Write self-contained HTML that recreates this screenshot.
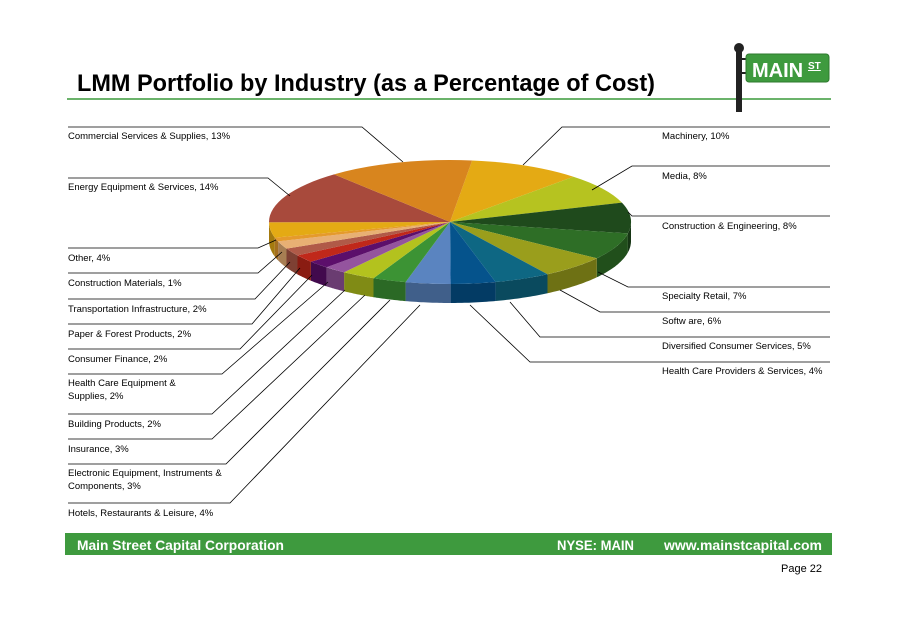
<!DOCTYPE html>
<html><head><meta charset="utf-8"><style>
body{margin:0;background:#fff;}
svg{display:block;font-family:"Liberation Sans",sans-serif;}
</style></head><body>
<svg id="s" width="899" height="635" viewBox="0 0 899 635" xmlns="http://www.w3.org/2000/svg">
<rect width="899" height="635" fill="#fff"/>
<text x="77" y="91" font-size="24" font-weight="bold" fill="#000" textLength="578" lengthAdjust="spacingAndGlyphs">LMM Portfolio by Industry (as a Percentage of Cost)</text>
<line x1="67" y1="99" x2="831" y2="99" stroke="#3a9a3a" stroke-width="1.5"/>
<rect x="736" y="50" width="6" height="62" fill="#222"/>
<circle cx="739" cy="48" r="5" fill="#222"/>
<rect x="742" y="58" width="5" height="2" fill="#222"/><rect x="742" y="72" width="5" height="2" fill="#222"/>
<rect x="746" y="54" width="83" height="28" rx="3" fill="#3e9a3e" stroke="#2e7a2e"/>
<text x="752" y="77" font-size="20" font-weight="bold" fill="#fff">MAIN</text>
<text x="808" y="69" font-size="10" font-weight="bold" fill="#fff" text-decoration="underline">ST</text>
<g id="pie"></g>
<g id="lines" stroke="#000" stroke-width="0.8" fill="none"></g>
<g font-size="9.5" fill="#000">
<text x="68" y="139">Commercial  Services &amp; Supplies, 13%</text>
<text x="68" y="190">Energy Equipment  &amp; Services, 14%</text>
<text x="68" y="261">Other, 4%</text>
<text x="68" y="286">Construction Materials, 1%</text>
<text x="68" y="312">Transportation Infrastructure, 2%</text>
<text x="68" y="337">Paper  &amp; Forest Products, 2%</text>
<text x="68" y="362">Consumer Finance, 2%</text>
<text x="68" y="386">Health Care Equipment  &amp;</text>
<text x="68" y="399">Supplies, 2%</text>
<text x="68" y="427">Building Products, 2%</text>
<text x="68" y="452">Insurance, 3%</text>
<text x="68" y="476">Electronic Equipment,  Instruments &amp;</text>
<text x="68" y="489">Components,  3%</text>
<text x="68" y="516">Hotels, Restaurants &amp; Leisure, 4%</text>
<text x="662" y="139">Machinery, 10%</text>
<text x="662" y="179">Media,  8%</text>
<text x="662" y="229">Construction &amp; Engineering,  8%</text>
<text x="662" y="299">Specialty Retail,  7%</text>
<text x="662" y="324">Softw are, 6%</text>
<text x="662" y="349">Diversified Consumer Services, 5%</text>
<text x="662" y="374">Health Care Providers &amp; Services, 4%</text>
</g>
<rect x="65" y="533" width="767" height="22" fill="#3e9a3e"/>
<g font-size="14" font-weight="bold" fill="#fff">
<text x="77" y="550" textLength="207" lengthAdjust="spacingAndGlyphs">Main Street Capital Corporation</text>
<text x="557" y="550" textLength="77" lengthAdjust="spacingAndGlyphs">NYSE: MAIN</text>
<text x="664" y="550" textLength="158" lengthAdjust="spacingAndGlyphs">www.mainstcapital.com</text>
</g>
<text x="781" y="572" font-size="11" fill="#000">Page 22</text>
</svg>
<script>
var cx=450,cy=222,rx=181,ry=62,d=19;
var sl=[[10,"#e4aa14"],[8,"#b6c320"],[8,"#1f4a1c"],[7,"#2e6e26"],[6,"#9a9e1c"],[5,"#0e6783"],[4,"#05538c"],[4,"#5a84c0"],[3,"#3c9334"],[3,"#b3c21e"],[2,"#94549e"],[2,"#5c0f6b"],[2,"#c0281a"],[2,"#b05a48"],[2,"#e8b074"],[1,"#e59a2c"],[4,"#e4aa14"],[14,"#a84a3c"],[13,"#d8851e"]];
function P(t,dy){return [cx+rx*Math.sin(t),cy-ry*Math.cos(t)+(dy||0)];}
function dk(c,f){var n=parseInt(c.slice(1),16);var r=(n>>16)*f|0,g=((n>>8)&255)*f|0,b=(n&255)*f|0;return "rgb("+r+","+g+","+b+")";}
var g=document.getElementById("pie"),a=7*Math.PI/180,sides="",tops="";
sl.forEach(function(s){
 var a1=a+s[0]/100*2*Math.PI;
 var lo=Math.max(a,Math.PI/2),hi=Math.min(a1,3*Math.PI/2);
 if(hi>lo){var p="";var n=20;for(var i=0;i<=n;i++){var q=P(lo+(hi-lo)*i/n);p+=(i?"L":"M")+q[0].toFixed(1)+" "+q[1].toFixed(1);}
  for(var i=n;i>=0;i--){var q=P(lo+(hi-lo)*i/n,d);p+="L"+q[0].toFixed(1)+" "+q[1].toFixed(1);}
  sides+='<path d="'+p+'Z" fill="'+dk(s[1],0.72)+'"/>';}
 var p0=P(a),p1=P(a1),large=(a1-a)>Math.PI?1:0;
 tops+='<path d="M'+cx+' '+cy+'L'+p0[0].toFixed(1)+' '+p0[1].toFixed(1)+'A'+rx+' '+ry+' 0 '+large+' 1 '+p1[0].toFixed(1)+' '+p1[1].toFixed(1)+'Z" fill="'+s[1]+'"/>';
 a=a1;});
g.innerHTML=sides+tops;
var L=[
[[68,127],[362,127],[403,162]],
[[68,178],[268,178],[290,196]],
[[68,248],[258,248],[276,240]],
[[68,273],[258,273],[282,252]],
[[68,299],[255,299],[290,262]],
[[68,324],[252,324],[300,268]],
[[68,349],[240,349],[312,275]],
[[68,374],[222,374],[328,282]],
[[68,414],[212,414],[345,290]],
[[68,439],[212,439],[365,295]],
[[68,464],[226,464],[390,300]],
[[68,503],[230,503],[420,305]],
[[830,127],[562,127],[523,165]],
[[830,166],[632,166],[592,190]],
[[830,216],[632,216],[628,212]],
[[830,287],[628,287],[598,272]],
[[830,312],[600,312],[560,290]],
[[830,337],[540,337],[510,302]],
[[830,362],[530,362],[470,305]]];
var h="";L.forEach(function(l){h+='<polyline points="'+l.map(function(p){return p.join(",")}).join(" ")+'"/>';});
document.getElementById("lines").innerHTML=h;
</script>
</body></html>
